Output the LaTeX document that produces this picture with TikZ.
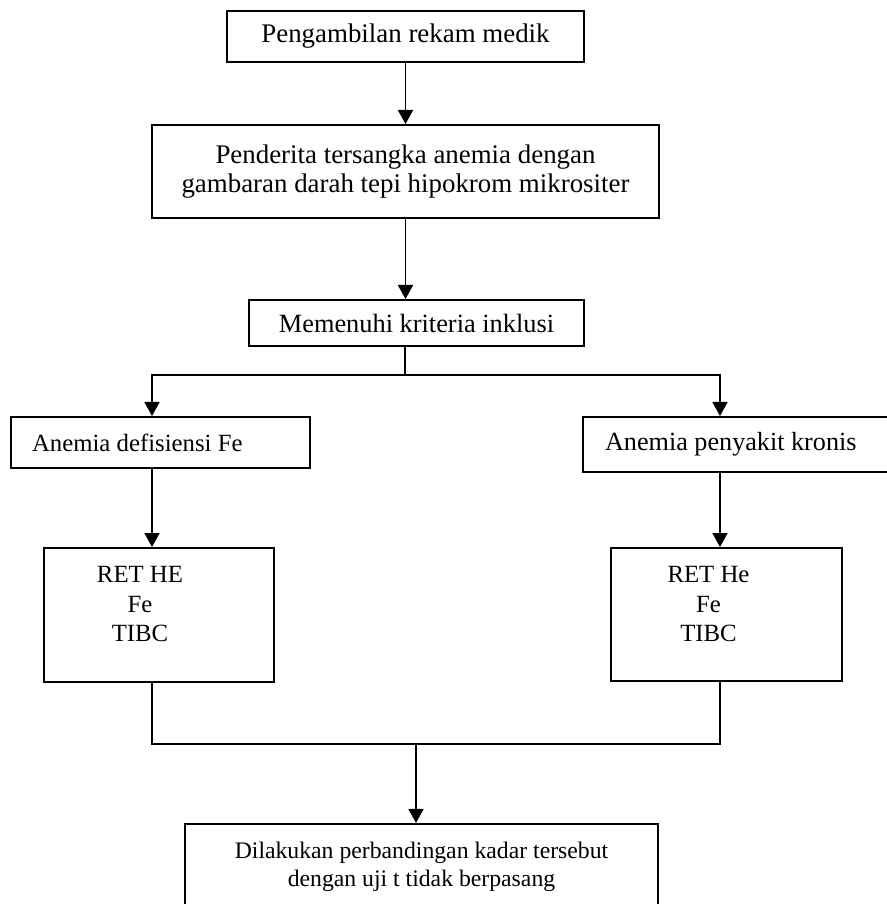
\documentclass[tikz,border=0pt]{standalone}
\usepackage{fontspec}
\setmainfont{Liberation Serif}
\usepackage{tikz}
\usetikzlibrary{arrows.meta}
\usepackage{xcolor}

\tikzset{
  kotak/.style={draw,line width=1.1pt,inner sep=0pt,align=center},
  panah/.style={->,line width=1.1pt},
  garis/.style={line width=0.8pt},
}

\begin{document}
\begin{tikzpicture}[x=0.02cm,y=-0.02cm,>={Triangle[length=8pt,width=8.5pt]}]
\useasboundingbox (0,0) rectangle (887,904);
\clip (0,0) rectangle (887,904);
\node[kotak,minimum width=7.14cm,minimum height=1.02cm,font=\fontsize{15.3}{17}\selectfont] (rekam) at (405.5,36.5) {Pengambilan rekam medik};
\node[kotak,minimum width=10.14cm,minimum height=1.86cm,font=\fontsize{15.3}{17}\selectfont] (tersangka) at (405.5,171.5) {Penderita tersangka anemia dengan\\gambaran darah tepi hipokrom mikrositer};
\node[kotak,minimum width=6.7cm,minimum height=0.92cm,font=\fontsize{15}{17}\selectfont] (inklusi) at (416.5,323) {Memenuhi kriteria inklusi};
\node[kotak,inner xsep=0.42cm,minimum height=1.02cm,font=\fontsize{14.1}{16}\selectfont] (adf) at (160.5,442.5) {\makebox[5.14cm][l]{Anemia defisiensi Fe}};
\node[kotak,inner xsep=0.44cm,minimum height=1.1cm,font=\fontsize{14.9}{17}\selectfont] (apk) at (741.5,444.5) {\makebox[5.46cm][l]{Anemia penyakit kronis}};
\node[kotak,minimum width=4.6cm,minimum height=2.68cm] (retL) at (159,615) {};
\node[align=center,font=\fontsize{14.1}{17}\selectfont] (retLtxt) at (140,604) {RET HE\\Fe\\TIBC};
\node[kotak,minimum width=4.62cm,minimum height=2.66cm] (retR) at (726.5,614.5) {};
\node[align=center,font=\fontsize{14.1}{17}\selectfont] (retRtxt) at (708.5,604) {RET He\\Fe\\TIBC};
\node[kotak,anchor=north,minimum width=9.46cm,minimum height=1.72cm,font=\fontsize{13.5}{15.9}\selectfont] (banding) at (421.5,823) {Dilakukan perbandingan kadar tersebut\\dengan uji t tidak berpasang};
\coordinate (cabang) at (405,375);
\coordinate (kiri) at (152,375);
\coordinate (kanan) at (720,375);
\coordinate (gabung) at (416,744);
\draw[panah] (rekam) -- (tersangka);
\draw[panah] (tersangka.south) -- (tersangka.south |- inklusi.north);
\draw[garis] (inklusi.south -| cabang) -- (cabang);
\draw[panah] (cabang) -| (kiri |- adf.north);
\draw[panah] (cabang) -| (kanan |- apk.north);
\draw[panah] (adf.south -| kiri) -- (kiri |- retL.north);
\draw[panah] (apk.south -| kanan) -- (kanan |- retR.north);
\draw[garis] (retL.south -| kiri) |- (gabung) -| (retR.south -| kanan);
\draw[panah] (gabung) -- (gabung |- banding.north);
\end{tikzpicture}
\end{document}
